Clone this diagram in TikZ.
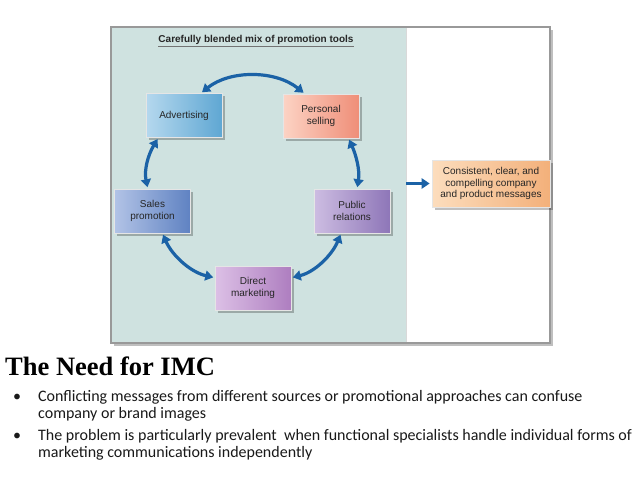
\documentclass[tikz,border=0pt]{standalone}
\usepackage{fontspec}
\setmainfont{Liberation Sans}
\newfontfamily\serifbold{Liberation Serif}
\newfontfamily\calfont{Carlito}
\usetikzlibrary{arrows.meta,shadows,calc}
\definecolor{panelteal}{HTML}{CFE2E0}
\definecolor{arrowblue}{HTML}{1B62A6}
\definecolor{advL}{HTML}{B5D8EE}\definecolor{advR}{HTML}{5FA7D3}
\definecolor{perL}{HTML}{FCD3C4}\definecolor{perR}{HTML}{EF8E78}
\definecolor{salL}{HTML}{B2C3E6}\definecolor{salR}{HTML}{5F82C2}
\definecolor{pubL}{HTML}{CDBDE2}\definecolor{pubR}{HTML}{8E76B8}
\definecolor{dmL}{HTML}{DCC0E6}\definecolor{dmR}{HTML}{AE7EC0}
\definecolor{outL}{HTML}{FCDDBD}\definecolor{outR}{HTML}{F3B07A}
\tikzset{
  toolbox/.style={minimum width=76pt, minimum height=44pt, inner sep=1pt, align=center,
    font=\fontsize{10}{11.5}\selectfont, text=black!85, draw=white!80!gray, line width=0.6pt,
    drop shadow={shadow xshift=2.5pt, shadow yshift=-2.5pt, fill=black, opacity=0.25}},
  conn/.style={draw=arrowblue, line width=3.2pt, shorten <=1.5pt, shorten >=1.5pt,
    {Triangle[length=8pt,width=10pt]}-{Triangle[length=8pt,width=10pt]}},
  connone/.style={draw=arrowblue, line width=3.2pt, -{Triangle[length=8pt,width=10pt]}},
  bul/.style={anchor=base west, inner sep=0pt, font=\calfont\fontsize{16}{20}\selectfont, text=black!90}
}
\begin{document}
\begin{tikzpicture}[x=1pt,y=-1pt]
\useasboundingbox (0,0) rectangle (638,479);
\fill[white] (0,0) rectangle (638,479);
% panel
\fill[black!25] (113.5,29.5) rectangle (553,346);
\fill[panelteal] (111,27) rectangle (406,343);
\fill[white] (406,27) rectangle (550,343);
\draw[black!40, line width=1.6pt] (111,27) rectangle (550,343);
\draw[black!15, line width=0.8pt] (406,28) -- (406,342);
% title
\node[font=\bfseries\fontsize{10}{12}\selectfont, text=black!85, inner sep=0pt] (title) at (256,40) {Carefully blended mix of promotion tools};
\draw[black!55, line width=0.7pt] ($(title.base west)+(0,3.5)$) -- ($(title.base east)+(0,3.5)$);
% boxes
\node[toolbox, left color=advL, right color=advR] (adv) at (184,115.5) {Advertising};
\node[toolbox, left color=perL, right color=perR] (pers) at (321,116) {Personal\\selling};
\node[toolbox, left color=salL, right color=salR] (sales) at (152.5,211) {Sales\\promotion};
\node[toolbox, left color=pubL, right color=pubR] (pub) at (352,211) {Public\\relations};
\node[toolbox, left color=dmL, right color=dmR] (dm) at (253,288) {Direct\\marketing};
\node[toolbox, minimum width=118pt, minimum height=47pt, left color=outL, right color=outR] (out) at (491,183.5) {Consistent, clear, and\\compelling company\\and product messages};
% connectors
\draw[conn] (adv.53) .. controls (230,70) and (275,70) .. (pers.126);
\draw[conn] (adv.221) .. controls (148,155) and (144,170) .. (sales.102);
\draw[conn] (pers.321) .. controls (356,155) and (360,170) .. (pub.77);
\draw[conn] (sales.-66) .. controls (172,255) and (190,272) .. (dm.165);
\draw[conn] (pub.244) .. controls (332,255) and (315,272) .. (dm.15);
\coordinate (div) at (406,183.5);
\draw[connone] (div) -- ([xshift=-2pt]out.west);
% bottom text
\node[anchor=base west, inner sep=0pt, font=\serifbold\bfseries\fontsize{26.5}{30}\selectfont] (imc) at (5,375) {The Need for IMC};
\node[bul] (d1) at (13,401) {•};
\node[bul] (l1) at (38,401) {Conflicting messages from different sources or promotional approaches can confuse};
\node[bul] (l2) at (38,418) {company or brand images};
\node[bul] (d2) at (13,440) {•};
\node[bul] (l3) at (38,440) {The problem is particularly prevalent\ \ when functional specialists handle individual forms of};
\node[bul] (l4) at (38,457) {marketing communications independently};
\end{tikzpicture}
\end{document}
